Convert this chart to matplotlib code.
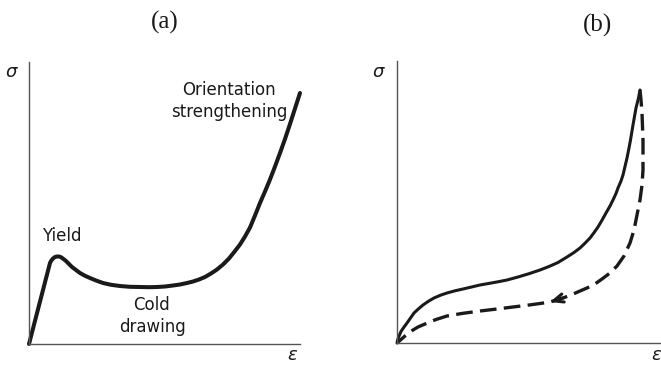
import matplotlib
matplotlib.use("Agg")
import matplotlib.pyplot as plt

# Units: arbitrary strain / stress units
# ---- Panel (a): stress-strain curve of a cold-drawing polymer
strain_a = [0, 21, 22, 24, 26, 28, 30, 32, 34, 37, 40, 43, 47, 51, 56, 61, 67, 74,
            82, 91, 101, 111, 120, 128, 136, 144, 151, 158, 164, 170, 176, 182,
            188, 194, 200, 206, 211, 216, 221, 226, 231, 236, 241, 246, 251, 256,
            261, 266, 271]
stress_a = [0, 81, 83, 85.5, 87, 87.5, 87.5, 86.8, 85.4, 83, 80, 77, 74, 71, 68.2,
            66, 63.5, 61, 59.2, 58, 57.2, 57, 56.8, 57, 57.5, 58.5, 59.5, 61, 62.5,
            64.5, 67, 70.5, 74.5, 79.5, 85.5, 93, 99.5, 107.5, 116.5, 128.5, 141,
            152.5, 164.5, 177.5, 191, 205, 220, 235.5, 251]

# ---- Panel (b): loading (solid) and unloading (dashed) curves
strain_load = [0, 0.5, 1.5, 2.7, 4, 6, 8, 10, 13.5, 17, 21.5, 26, 31.5, 37, 43.5,
               50, 58, 66, 74.5, 83, 92, 101, 110, 121, 132, 143, 152, 161, 170,
               177, 183, 188, 193, 197, 201, 205, 209, 213, 216, 219, 221, 224, 226,
               228, 230, 232, 233.5, 236, 239, 241.5, 243]
stress_load = [0, 2.5, 5.5, 8.5, 11.5, 14.5, 17.3, 20, 25, 30, 34.2, 38, 41.8, 45,
               47.8, 50, 52.2, 54, 56, 58, 59.6, 61.2, 63, 66, 69.3, 73, 76.5, 80.5,
               86, 90.5, 95, 99.8, 105, 110.3, 116, 122.8, 130, 137, 143, 149.5, 155,
               162, 168, 176.5, 185, 195, 203, 218, 235, 245, 253]

strain_unload = [243, 244, 245, 246, 246, 245, 243, 240, 237, 233, 227, 220, 213,
                 205, 198, 190, 183, 174, 166, 153, 143, 130, 116, 100, 83, 66, 50,
                 39, 28, 21, 16, 12, 8, 4, 0]
stress_unload = [253, 243, 230, 203, 173, 158, 143, 128, 113, 100, 87, 77, 70, 64,
                 59, 55, 52, 48, 45, 41, 39.5, 37.7, 36, 34, 32, 29.7, 27, 23.5, 19,
                 16, 13, 10, 7, 3.5, 0]
arrow_index = 19  # unloading point where the arrowhead sits

panel_titles = ["(a)", "(b)"]
y_label = r"$\sigma$"
x_label = r"$\epsilon$"
annotations_a = ["Orientation\nstrengthening", "Yield", "Cold\ndrawing"]

W, H = 661, 365
fig = plt.figure(figsize=(W / 100, H / 100), dpi=100)
fig.patch.set_facecolor("white")

ink = "#1a1a1a"
axis_col = "#555555"


def fx(px):
    return px / W


def fy(py):
    return 1 - py / H


def style_axes(ax, xmax, ymax):
    ax.set_xlim(0, xmax)
    ax.set_ylim(0, ymax)
    for s in ("top", "right"):
        ax.spines[s].set_visible(False)
    for s in ("left", "bottom"):
        ax.spines[s].set_color(axis_col)
        ax.spines[s].set_linewidth(1.0)
    ax.set_xticks([])
    ax.set_yticks([])
    ax.patch.set_alpha(0)


ax_a = fig.add_axes([fx(29), fy(344), 271 / W, 282 / H])
style_axes(ax_a, 271, 282)
ax_a.plot(strain_a, stress_a, color=ink, lw=2.9, solid_capstyle="round",
          solid_joinstyle="round", clip_on=False)

ax_b = fig.add_axes([fx(397), fy(343), (W - 397) / W, 282 / H])
style_axes(ax_b, W - 397, 282)
ax_b.plot(strain_load, stress_load, color=ink, lw=2.2, solid_capstyle="round",
          solid_joinstyle="round", clip_on=False)
ax_b.plot(strain_unload, stress_unload, color=ink, lw=2.4, dashes=(5, 2.2),
          dash_capstyle="butt", clip_on=False)
ax_b.annotate("", xy=(strain_unload[arrow_index], stress_unload[arrow_index]),
              xytext=(strain_unload[arrow_index - 1], stress_unload[arrow_index - 1]),
              arrowprops=dict(arrowstyle="->,head_length=0.7,head_width=0.3",
                              color=ink, lw=2.2, shrinkA=0, shrinkB=0))

# titles
fig.text(fx(165), fy(22), panel_titles[0], family="Liberation Serif", fontsize=18,
         ha="center", va="center", color=ink)
fig.text(fx(598), fy(25), panel_titles[1], family="Liberation Serif", fontsize=18,
         ha="center", va="center", color=ink)

# axis symbols
fig.text(fx(12), fy(72), y_label, fontsize=13, ha="center", va="center", color=ink)
fig.text(fx(293), fy(355), x_label, fontsize=13, ha="center", va="center", color=ink)
fig.text(fx(379), fy(72), y_label, fontsize=13, ha="center", va="center", color=ink)
fig.text(fx(651), fy(355), x_label, fontsize=13, ha="left", va="center", color=ink)

# annotations in panel (a)
fig.text(fx(229), fy(101), annotations_a[0], fontsize=12, ha="center", va="center",
         color=ink, linespacing=1.25)
fig.text(fx(62), fy(236), annotations_a[1], fontsize=12, ha="center", va="center",
         color=ink)
fig.text(fx(152), fy(316), annotations_a[2], fontsize=12, ha="center", va="center",
         color=ink, linespacing=1.25)

fig.savefig("out.png", dpi=100, facecolor="white")
